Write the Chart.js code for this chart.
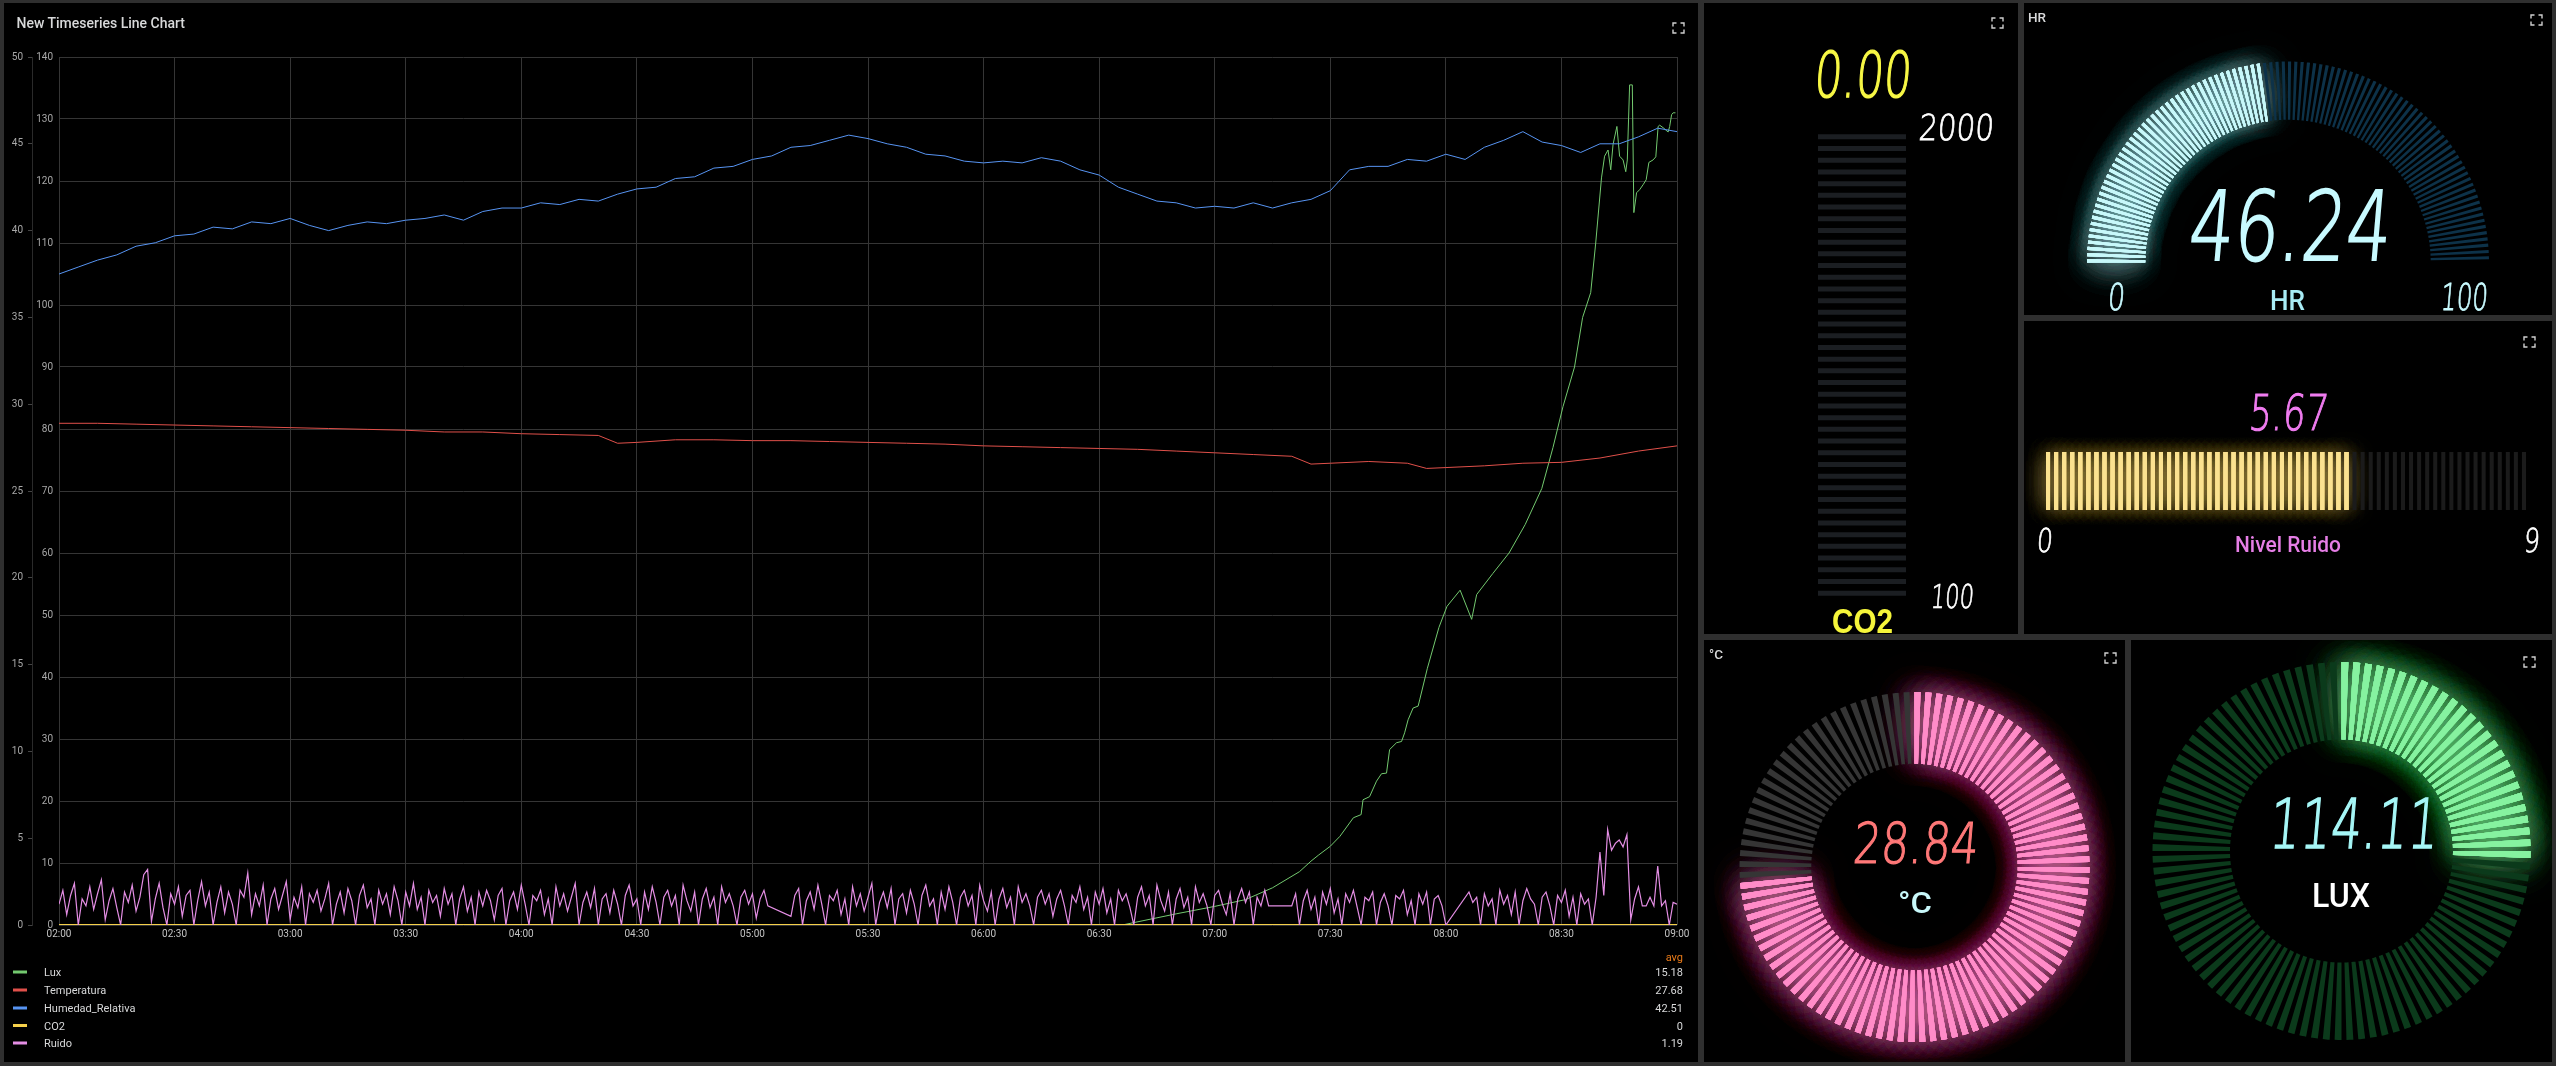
<!DOCTYPE html>
<html>
<head>
<meta charset="utf-8">
<title>Sensores</title>
<script src="https://cdn.jsdelivr.net/npm/chart.js@4.4.1/dist/chart.umd.min.js"></script>
<style>
  html, body { margin: 0; padding: 0; }
  body { width: 2556px; height: 1066px; background: #2f2f2f; position: relative; overflow: hidden; }
  .panel { position: absolute; background: #000; overflow: hidden; }
  .panel canvas { position: absolute; left: 0; top: 0; }
  #overlay { position: absolute; left: 0; top: 0; pointer-events: none; }
</style>
</head>
<body>
<div class="panel" style="left:4px;top:3px;width:1694px;height:1059px">
  <canvas id="mainChart" width="1694" height="900" style="top:42px"></canvas>
</div>
<div class="panel" style="left:1704px;top:3px;width:314px;height:631px"><canvas id="co2Chart" width="314" height="631"></canvas></div>
<div class="panel" style="left:2024px;top:3px;width:528px;height:312px"><canvas id="hrChart" width="528" height="312"></canvas></div>
<div class="panel" style="left:2024px;top:321px;width:528px;height:313px"><canvas id="ruidoChart" width="528" height="313"></canvas></div>
<div class="panel" style="left:1704px;top:640px;width:421px;height:422px"><canvas id="tempChart" width="421" height="422"></canvas></div>
<div class="panel" style="left:2131px;top:640px;width:421px;height:422px"><canvas id="luxChart" width="421" height="422"></canvas></div>
<svg id="overlay" width="2556" height="1066"></svg>
<script>
'use strict';

// ---- time series (minutes after 02:00) ----
const timeTicks = ['02:00', '02:30', '03:00', '03:30', '04:00', '04:30', '05:00', '05:30',
    '06:00', '06:30', '07:00', '07:30', '08:00', '08:30', '09:00'];

// humedad relativa, one value every 5 min
const humedad = [
    37.5, 37.9, 38.3, 38.6, 39.1, 39.3, 39.7, 39.8, 40.2, 40.1,
    40.5, 40.4, 40.7, 40.3, 40.0, 40.3, 40.5, 40.4, 40.6, 40.7,
    40.9, 40.6, 41.1, 41.3, 41.3, 41.6, 41.5, 41.8, 41.7, 42.1,
    42.4, 42.5, 43.0, 43.1, 43.6, 43.7, 44.1, 44.3, 44.8, 44.9,
    45.2, 45.5, 45.3, 45.0, 44.8, 44.4, 44.3, 44.0, 43.9, 44.0,
    43.9, 44.2, 44.0, 43.5, 43.2, 42.5, 42.1, 41.7, 41.6, 41.3,
    41.4, 41.3, 41.6, 41.3, 41.6, 41.8, 42.3, 43.5, 43.7, 43.7,
    44.1, 44.0, 44.4, 44.1, 44.8, 45.2, 45.7, 45.1, 44.9, 44.5,
    45.0, 45.0, 45.4, 45.9, 45.7
];

const tempTimes = [0, 10, 20, 30, 40, 50, 60, 70, 80, 90, 100, 110, 120, 130, 140, 145, 150,
    160, 170, 180, 190, 200, 210, 220, 230, 240, 250, 260, 270, 280, 290, 300, 310, 320,
    325, 330, 340, 350, 355, 360, 370, 380, 390, 400, 410, 420];
const tempValues = [28.9, 28.9, 28.85, 28.8, 28.75, 28.7, 28.65, 28.6, 28.55, 28.5, 28.4, 28.4,
    28.3, 28.25, 28.2, 27.75, 27.8, 27.95, 27.95, 27.9, 27.9, 27.85, 27.8, 27.75, 27.7, 27.6,
    27.55, 27.5, 27.45, 27.4, 27.3, 27.2, 27.1, 27.0, 26.55, 26.6, 26.7, 26.6, 26.3, 26.35,
    26.45, 26.6, 26.65, 26.9, 27.3, 27.6];

const luxTimes = [0, 276, 290, 300, 308, 315, 322, 325, 327, 330, 332.5, 336, 338, 338.5,
    340.2, 342, 343.3, 344.6, 345.4, 347.2, 348.5, 349.3, 350.2, 351.5, 352.8, 353.2, 355.2,
    358.2, 360.3, 363.7, 366.7, 368, 372.2, 376.4, 380.6, 384.9, 387.8, 390.4, 393.4, 395.5,
    397.6, 398.9, 400.4, 401.2, 402.1, 402.8, 403.4, 404.4, 405.1, 406, 406.7, 407.1, 407.7,
    408.4, 408.8, 409.5, 410.3, 411.2, 412, 412.7, 413.8, 414.5, 415.1, 415.5, 416.4, 417.7,
    418.1, 418.6, 419, 419.6];
const luxValues = [0, 0, 1.8, 3.0, 4.1, 6.0, 8.6, 10.3, 11.3, 12.7, 14.3, 17.3, 17.8, 20.2,
    20.7, 23.2, 24.4, 24.5, 28.3, 29.4, 29.6, 31.0, 33.1, 35.0, 35.3, 36.3, 41.4, 48.0, 51.4,
    54.0, 49.3, 53.3, 56.7, 60.0, 64.6, 70.4, 77.0, 83.6, 90.0, 98.0, 102.0, 110.0, 120.5,
    124.0, 125.0, 121.8, 125.9, 128.8, 124.0, 123.4, 121.5, 123.4, 135.5, 135.5, 114.9, 118.1,
    118.6, 119.4, 120.2, 123.0, 123.4, 123.9, 128.8, 129.0, 128.6, 127.9, 128.8, 130.7, 131.0, 131.0];

// ruido, one value per minute (null = no data)
const ruido = [
    1.2, 2.0, 0.6, 1.7, 2.4, 0.0, 1.5, 1.1, 2.2, 0.9, 1.8, 2.6, 0.3, 1.4, 2.1, 1.0, 0.0, 1.9, 1.3, 2.3,
    0.8, 1.6, 2.9, 3.2, 0.2, 1.5, 2.4, 1.0, 0.0, 1.8, 1.2, 2.2, 0.5, 1.7, 2.0, 0.0, 1.4, 2.5, 1.1, 1.9,
    0.0, 1.3, 2.2, 0.7, 1.9, 1.2, 0.0, 2.0, 1.6, 3.0, 0.6, 1.8, 1.1, 2.3, 0.0, 1.5, 2.1, 0.9, 1.7, 2.5,
    0.3, 1.6, 1.0, 2.2, 0.0, 1.8, 1.3, 2.0, 0.8, 1.5, 2.4, 0.0, 1.2, 1.9, 0.7, 2.1, 1.4, 0.0, 1.7, 2.3,
    1.0, 1.5, 0.0, 2.0, 1.2, 1.8, 0.6, 2.2, 1.4, 0.0, 1.9, 1.1, 2.4, 0.9, 1.6, 0.0, 2.0, 1.3, 1.7, 0.5,
    2.1, 1.2, 1.8, 0.0, 1.5, 2.2, 0.8, 1.6, 0.0, 1.9, 1.1, 2.0, 1.4, 0.3, 1.7, 2.1, 0.0, 1.4, 1.9, 0.9,
    2.3, 1.2, 0.0, 1.7, 1.4, 2.0, 0.6, 1.5, 0.0, 2.2, 1.1, 1.8, 0.8, 1.6, 2.4, 0.0, 1.3, 1.9, 1.0, 2.1,
    0.0, 1.5, 1.8, 0.7, 2.0, 1.2, 0.0, 1.7, 2.3, 1.1, 1.5, 0.0, 1.9, 0.9, 2.2, 1.3, 0.0, 1.6, 2.0, 1.1,
    1.7, 0.0, 2.3, 1.4, 0.8, 1.9, 0.0, 1.5, 2.1, 1.0, 1.6, 0.0, 2.2, 1.3, 1.8, 1.1, 0.0, 1.6, 2.0, 1.2,
    1.8, 0.4, 1.5, 2.0, 1.1, null, null, null, null, null, 0.5, 1.7, 2.1, 0.0, 1.4, 1.9, 0.9, 2.3, 1.2, 0.0,
    1.7, 1.4, 2.0, 0.6, 1.5, 0.0, 2.2, 1.1, 1.8, 0.8, 1.6, 2.4, 0.0, 1.3, 1.9, 1.0, 2.1, 0.0, 1.5, 1.8,
    0.7, 2.0, 1.2, 0.0, 1.7, 2.3, 1.1, 1.5, 0.0, 1.9, 0.9, 2.2, 1.3, 0.0, 1.6, 2.0, 1.1, 1.7, 0.0, 2.3,
    1.4, 0.8, 1.9, 0.0, 1.5, 2.1, 1.0, 1.6, 0.0, 2.2, 1.3, 1.8, 1.1, 0.0, 1.6, 2.0, 1.2, 1.8, 0.5, 1.5,
    2.0, 1.1, 0.0, 1.7, 1.3, 2.2, 0.9, 1.6, 0.0, 1.9, 1.2, 2.1, 0.7, 1.5, 0.0, 2.0, 1.4, 1.8, 1.0, 0.0,
    1.6, 2.2, 1.1, 1.7, 0.0, 2.3, 1.4, 0.8, 1.9, 0.0, 1.5, 2.1, 1.0, 1.6, 0.0, 2.2, 1.3, 1.8, 1.1, 0.0,
    1.7, 2.0, 1.2, 0.6, 1.8, 0.0, 1.5, 2.1, 1.3, 1.9, 0.0, 1.6, 1.1, 2.0, 1.1, null, null, null, null, null,
    1.1, 1.8, 0.0, 1.4, 2.0, 0.9, 1.6, 0.0, 1.9, 1.2, 2.1, 0.7, 1.5, 0.0, 1.8, 1.3, 2.0, 1.0, 0.0, 1.6,
    1.4, 1.9, 0.0, 1.3, 1.8, 1.1, 0.0, 1.7, 1.5, 2.0, 0.6, 1.4, 0.0, 1.8, 1.2, 1.9, 0.0, 1.5, 1.7, 1.1,
    0.0, null, null, null, null, null, 1.9, 1.3, 1.6, 0.0, 1.8, 1.1, 1.5, 0.0, 2.0, 1.2, 1.7, 0.6, 1.9, 0.0,
    1.4, 2.1, 1.5, 1.2, 0.0, 1.6, 1.9, 1.1, 0.0, 1.7, 1.3, 2.0, 0.5, 1.6, 0.0, 1.8, 1.2, 1.5, 0.0, 1.6,
    4.2, 1.7, 5.5, 4.3, 4.7, 4.9, 4.5, 5.2, 0.3, 1.5, 2.2, 1.1, 1.1, 1.6, 1.1, 3.4, 1.1, 1.4, 0.0, 1.3,
    1.2
];

const co2Times = [0, 420];
const co2Values = [0, 0];

const seriesNames = ['Lux', 'Temperatura', 'Humedad_Relativa', 'CO2', 'Ruido'];
const seriesColors = ['#73c96f', '#e0504a', '#5794f2', '#f5d04a', '#e48ee4'];
const seriesAvg = ['15.18', '27.68', '42.51', '0', '1.19'];

// ---- gauges ----
const hrValue = 46.24, hrMin = 0, hrMax = 100;
const co2Value = 0, co2Min = 100, co2Max = 2000;
const ruidoValue = 5.67, ruidoMin = 0, ruidoMax = 9;
const tempValue = 28.84, tempMin = 0, tempMax = 39;
const luxValue = 114.11, luxMin = 0, luxMax = 440;

Chart.defaults.font.family = 'Roboto, "Noto Sans", sans-serif';

const toPoints = function (times, values) {
    return values.map((v, i) => ({ x: times[i], y: v }));
};
const stepPoints = function (step, values) {
    return values.map((v, i) => ({ x: i * step, y: v }));
};

const mainChart = new Chart(document.getElementById('mainChart'), {
    type: 'line',
    data: {
        datasets: [
            { label: 'Ruido', data: stepPoints(1, ruido), yAxisID: 'y1', borderColor: seriesColors[4], borderWidth: 1.2, spanGaps: true },
            { label: 'CO2', data: toPoints(co2Times, co2Values), yAxisID: 'y1', borderColor: seriesColors[3], borderWidth: 2 },
            { label: 'Humedad_Relativa', data: stepPoints(5, humedad), yAxisID: 'y1', borderColor: seriesColors[2] },
            { label: 'Temperatura', data: toPoints(tempTimes, tempValues), yAxisID: 'y1', borderColor: seriesColors[1] },
            { label: 'Lux', data: toPoints(luxTimes, luxValues), yAxisID: 'y', borderColor: seriesColors[0] }
        ]
    },
    options: {
        responsive: false,
        animation: false,
        events: [],
        layout: { padding: { top: 12, right: 21, left: 0, bottom: 0 } },
        elements: { point: { radius: 0 }, line: { borderWidth: 1, tension: 0 } },
        plugins: { legend: { display: false }, tooltip: { enabled: false } },
        scales: {
            x: {
                type: 'linear', min: 0, max: 420,
                ticks: { stepSize: 30, autoSkip: false, maxRotation: 0, color: '#c4c4c4', font: { size: 10 }, padding: 3,
                    callback: v => timeTicks[v / 30] },
                grid: { color: '#353535', drawTicks: false },
                border: { display: false },
                afterFit: s => { s.height = 20; }
            },
            y: {
                position: 'left', weight: 0, min: 0, max: 140,
                ticks: { stepSize: 10, color: '#a8a8a8', font: { size: 10 }, padding: 6 },
                grid: { color: '#353535', drawTicks: false },
                border: { display: false },
                afterFit: s => { s.width = 27; }
            },
            y1: {
                position: 'left', weight: 1, min: 0, max: 50,
                ticks: { stepSize: 5, color: '#a8a8a8', font: { size: 10 }, padding: 5 },
                grid: { drawOnChartArea: false, color: '#444', tickLength: 4 },
                border: { display: true, color: '#2a2a2a' },
                afterFit: s => { s.width = 28; }
            }
        }
    }
});

// glow behind the lit segments of a gauge
const glowPlugin = {
    id: 'glow',
    beforeDatasetsDraw(chart, args, opts) {
        const meta = chart.getDatasetMeta(0);
        const ctx = chart.ctx;
        ctx.save();
        ctx.shadowColor = opts.color;
        ctx.shadowBlur = opts.blur;
        for (let p = 0; p < opts.passes; p++) {
            meta.data.forEach(el => { if (el.options.backgroundColor === opts.on) el.draw(ctx); });
        }
        ctx.restore();
    }
};

const litCount = function (value, min, max, segs) {
    return Math.max(0, Math.min(segs, Math.round((value - min) / (max - min) * segs)));
};

// each gauge cell is a bar slice followed by a transparent gap slice
const ringGauge = function (id, value, min, max, segs, cfg) {
    const lit = litCount(value, min, max, segs);
    const slices = [];
    const colors = [];
    for (let i = 0; i < segs; i++) {
        slices.push(cfg.bar, 1 - cfg.bar);
        colors.push(i < lit ? cfg.on : cfg.off, 'rgba(0,0,0,0)');
    }
    return new Chart(document.getElementById(id), {
        type: 'doughnut',
        data: {
            labels: slices.map((s, i) => i),
            datasets: [{ data: slices, backgroundColor: colors, borderWidth: 0 }]
        },
        options: {
            responsive: false,
            animation: false,
            events: [],
            rotation: cfg.rotation,
            circumference: cfg.circumference,
            radius: cfg.radius,
            cutout: cfg.cutout,
            layout: { padding: { top: cfg.padTop } },
            plugins: {
                legend: { display: false }, tooltip: { enabled: false },
                glow: { color: cfg.glow, blur: cfg.blur, passes: 4, on: cfg.on }
            }
        },
        plugins: [glowPlugin]
    });
};

ringGauge('hrChart', hrValue, hrMin, hrMax, 100, {
    on: '#c8f8fa', off: '#0d3249', glow: 'rgba(190,245,250,0.6)', blur: 38, bar: 0.5,
    rotation: -90, circumference: 180, radius: 201, cutout: '71%', padTop: 6
});
ringGauge('tempChart', tempValue, tempMin, tempMax, 100, {
    on: '#ff8cc8', off: '#353535', glow: 'rgba(255,140,200,0.6)', blur: 42, bar: 0.55,
    rotation: 0, circumference: 360, radius: 175, cutout: '59%', padTop: 32
});
ringGauge('luxChart', luxValue, luxMin, luxMax, 100, {
    on: '#86f2a0', off: '#0b3a1b', glow: 'rgba(125,240,150,0.6)', blur: 42, bar: 0.58,
    rotation: 0, circumference: 360, radius: 189, cutout: '59%', padTop: 0
});

const stripeBar = function (id, value, min, max, segs, cfg) {
    const lit = litCount(value, min, max, segs);
    const cells = Array.from({ length: segs }, () => 1);
    const vertical = cfg.axis === 'y';
    return new Chart(document.getElementById(id), {
        type: 'bar',
        data: {
            labels: cells.map((c, i) => i),
            datasets: [{
                data: cells,
                backgroundColor: cells.map((c, i) => i < lit ? cfg.on : cfg.off),
                barPercentage: cfg.fill,
                categoryPercentage: 1
            }]
        },
        options: {
            responsive: false,
            animation: false,
            events: [],
            indexAxis: cfg.axis,
            layout: { padding: cfg.pad },
            scales: {
                x: { display: false, min: vertical ? 0 : undefined, max: vertical ? 1 : undefined },
                y: { display: false, reverse: vertical, min: vertical ? undefined : 0, max: vertical ? undefined : 1 }
            },
            plugins: {
                legend: { display: false }, tooltip: { enabled: false },
                glow: { color: cfg.glow, blur: 26, passes: 3, on: cfg.on }
            }
        },
        plugins: [glowPlugin]
    });
};

stripeBar('ruidoChart', ruidoValue, ruidoMin, ruidoMax, 60, {
    axis: 'x', on: '#fbe290', off: '#1b1b1b', glow: 'rgba(240,205,110,0.5)', fill: 0.5,
    pad: { left: 20, right: 24, top: 131, bottom: 124 }
});
stripeBar('co2Chart', co2Value, co2Min, co2Max, 40, {
    axis: 'y', on: '#f5f040', off: '#1b1e22', glow: 'rgba(245,240,64,0.5)', fill: 0.43,
    pad: { left: 114, right: 112, top: 128, bottom: 35 }
});

// ---- overlay texts ----
const svgNS = 'http://www.w3.org/2000/svg';
const overlay = document.getElementById('overlay');
const addText = function (str, x, y, o) {
    const t = document.createElementNS(svgNS, 'text');
    t.textContent = str;
    t.setAttribute('x', x);
    t.setAttribute('y', y);
    t.setAttribute('font-size', o.size);
    t.setAttribute('font-family', o.family || 'Roboto');
    t.setAttribute('font-weight', o.weight || 400);
    t.setAttribute('fill', o.color);
    if (o.stroke) {
        t.setAttribute('stroke', o.color);
        t.setAttribute('stroke-width', o.stroke);
    }
    if (o.width) {
        t.setAttribute('textLength', o.width);
        t.setAttribute('lengthAdjust', 'spacingAndGlyphs');
    }
    if (o.anchor) t.setAttribute('text-anchor', o.anchor);
    if (o.skew) t.setAttribute('transform', `translate(${x},${y}) skewX(${o.skew}) translate(${-x},${-y})`);
    overlay.appendChild(t);
};
const digits = function (str, x1, x2, base, height, color) {
    addText(str, x1, base, { size: height / 0.729, width: x2 - x1, color: color,
        family: '"DejaVu Sans", sans-serif', weight: 200, skew: -5, stroke: height * 0.03 });
};
const expandIcon = function (x, y) {
    const p = document.createElementNS(svgNS, 'path');
    const w = 11, h = 10, c = 3.5;
    p.setAttribute('d', `M${x} ${y + c}V${y}H${x + c} M${x + w - c} ${y}H${x + w}V${y + c} ` +
        `M${x + w} ${y + h - c}V${y + h}H${x + w - c} M${x + c} ${y + h}H${x}V${y + h - c}`);
    p.setAttribute('stroke', '#cfcfcf');
    p.setAttribute('stroke-width', '1.4');
    p.setAttribute('fill', 'none');
    overlay.appendChild(p);
};

addText('New Timeseries Line Chart', 16.5, 28, { size: 14, weight: 500, color: '#d8d9da' });
addText('HR', 2028, 22, { size: 13.5, weight: 500, color: '#d8d9da' });
addText('°C', 1709, 659, { size: 13.5, weight: 500, color: '#d8d9da' });
[[1673, 23], [1992, 18], [2531, 15], [2524, 337], [2105, 653], [2524, 657]].forEach(p => expandIcon(p[0], p[1]));

// legend
const legendRows = [972, 990, 1008, 1025.5, 1043];
addText('avg', 1683, 961, { size: 11, color: '#eb7b18', anchor: 'end' });
seriesNames.forEach((name, i) => {
    const r = document.createElementNS(svgNS, 'rect');
    r.setAttribute('x', 13); r.setAttribute('y', legendRows[i] - 1.5);
    r.setAttribute('width', 14); r.setAttribute('height', 3);
    r.setAttribute('fill', seriesColors[i]);
    overlay.appendChild(r);
    addText(name, 44, legendRows[i] + 4, { size: 11, color: '#d8d9da' });
    addText(seriesAvg[i], 1683, legendRows[i] + 4, { size: 11, color: '#d8d9da', anchor: 'end' });
});

// CO2
digits(co2Value.toFixed(2), 1813, 1910, 97, 46, '#f8f845');
digits(String(co2Max), 1918, 1993, 140, 26, '#ffffff');
digits(String(co2Min), 1930, 1973, 608, 24, '#ffffff');
addText('CO2', 1832, 633, { size: 35, width: 61, weight: 700, family: '"Liberation Sans", Arial, sans-serif', color: '#f5f53a' });

// HR
digits(hrValue.toFixed(2), 2187, 2389, 260, 70, '#c8faff');
digits(String(hrMin), 2107, 2124, 310, 27, '#c8faff');
digits(String(hrMax), 2440, 2487, 310, 27, '#c8faff');
addText('HR', 2270, 310, { size: 28, width: 35, weight: 500, color: '#a8ecf5' });

// Ruido
digits(ruidoValue.toFixed(2), 2248, 2327, 430, 36, '#f07cf0');
digits(String(ruidoMin), 2036, 2052, 552, 24, '#ffffff');
digits(String(ruidoMax), 2523, 2539, 552, 24, '#ffffff');
addText('Nivel Ruido', 2235, 552, { size: 22, width: 106, weight: 500, color: '#e67ee6' });

// Temperatura
digits(tempValue.toFixed(2), 1852, 1977, 863, 41, '#ff7878');
addText('°C', 1898, 913, { size: 29, width: 34, weight: 500, color: '#c8f8fa' });

// Lux
digits(luxValue.toFixed(2), 2268, 2437, 848, 50, '#a6f7f7');
addText('LUX', 2312, 907, { size: 33, width: 58, weight: 500, color: '#ffffff' });
</script>
</body>
</html>
